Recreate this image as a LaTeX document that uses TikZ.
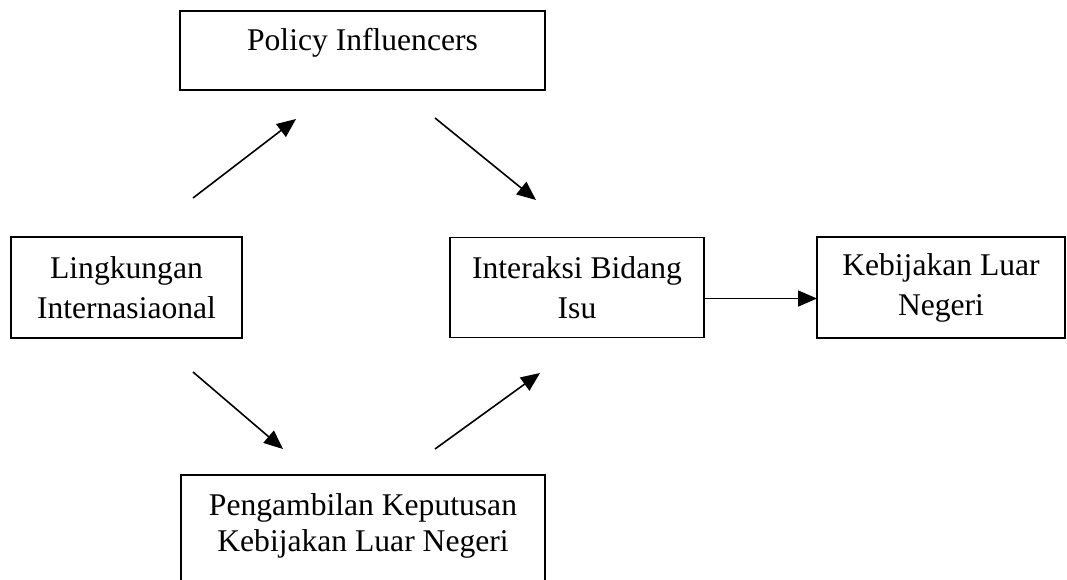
\documentclass[tikz,border=0pt]{standalone}
\usepackage{fontspec}
\setmainfont{Liberation Serif}
\usetikzlibrary{arrows.meta}
\begin{document}
\begin{tikzpicture}[x=1pt,y=-1pt,
  box/.style={draw=black,line width=1.7pt,rectangle,inner xsep=0pt,inner ysep=0pt,outer sep=0pt,align=center,
    font=\fontsize{31.6}{40}\selectfont},
  arr/.style={line width=1.6pt,-{Triangle[length=19pt,width=16pt]}}
]
\useasboundingbox (0,0) rectangle (1067,579);
% boxes
\node[box,anchor=north,minimum width=365pt,text height=39pt,text depth=40pt] (pi) at (362.5,11) {Policy Influencers};
\node[box,minimum width=231pt,minimum height=101pt] (li) at (126.5,287.5) {Lingkungan\\Internasiaonal};
\node[box,minimum width=254pt,minimum height=100pt] (ib) at (577,287.5) {Interaksi Bidang\\Isu};
\node[box,minimum width=248pt,minimum height=101pt] (kl) at (941,287.5) {Kebijakan Luar\\Negeri};
\node[box,anchor=north,minimum width=364pt,text height=76pt,text depth=48pt,
  font=\fontsize{31.6}{36}\selectfont] (pk) at (363,475) {Pengambilan Keputusan\\Kebijakan Luar Negeri};
% free arrow ends
\coordinate (a1s) at (193,198); \coordinate (a1e) at (296,119);
\coordinate (a2s) at (435,118); \coordinate (a2e) at (536,200);
\coordinate (a3s) at (193,372); \coordinate (a3e) at (283,449);
\coordinate (a4s) at (435,449); \coordinate (a4e) at (540,373);
\draw[arr] (a1s) -- (a1e);
\draw[arr] (a2s) -- (a2e);
\draw[arr] (a3s) -- (a3e);
\draw[arr] (a4s) -- (a4e);
\draw[arr] ([yshift=-11pt]ib.east) -- ([yshift=-11pt]kl.west);
\end{tikzpicture}
\end{document}
